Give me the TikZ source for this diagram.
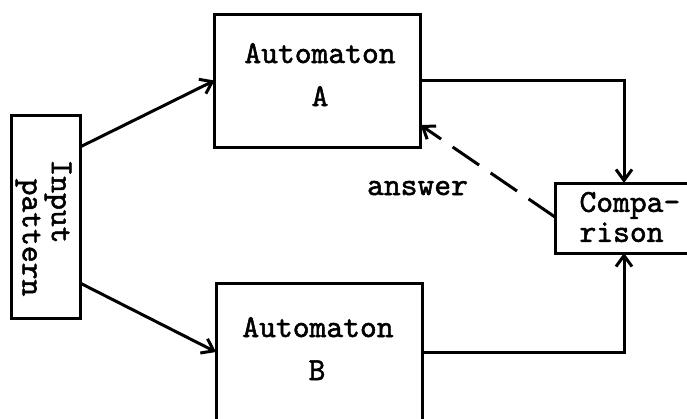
\documentclass[tikz,border=0pt]{standalone}
\usepackage{fontspec}
\newfontfamily\typew{lmmono10-regular.otf}[FakeBold=1.6]
\usetikzlibrary{arrows.meta}
\begin{document}
\begin{tikzpicture}[x=1pt, y=-1pt,
  line width=3pt,
  box/.style={draw, rectangle, inner sep=0pt, outer sep=0pt},
  lbl/.style={inner sep=0pt, font=\typew\fontsize{32}{30}\selectfont},
  flow/.style={-{Straight Barb[length=11pt,width=16pt]}},
  back/.style={flow, dash pattern=on 32pt off 14pt}]
\useasboundingbox (0,0) rectangle (687,418);
\clip (0,0) rectangle (687,418);

% boxes
\node[box, minimum width=69pt,  minimum height=203pt] (in)   at (45.5,216.5) {};
\node[box, minimum width=206pt, minimum height=133pt] (A)    at (317.5,80.5) {};
\node[box, minimum width=206pt, minimum height=150pt] (B)    at (319,358) {};
\node[box, minimum width=150pt, minimum height=70pt]  (cmp)  at (630,218) {};

% labels
\node[lbl, rotate=-90] (inA) at (58,201.5) {Input};
\node[lbl, rotate=-90] (inB) at (28,237.5) {pattern};
\node[lbl, anchor=base] (At1) at (320,63)  {Automaton};
\node[lbl, anchor=base] (At2) at (320,106) {A};
\node[lbl, anchor=base] (Bt1) at (318,337) {Automaton};
\node[lbl, anchor=base] (Bt2) at (317,380) {B};
\node[lbl, align=left, anchor=west] (Ct) at (578,217) {Compa-\\rison};
\node[lbl, anchor=base] (ans) at (417.5,195) {answer};

% connectors
\draw[flow] ([yshift=69.5pt]in.east) -- (A.west);
\draw[flow] ([yshift=-66.5pt]in.east) -- ([yshift=6pt]B.west);
\draw[flow] (A.east) -| ([xshift=-6pt]cmp.north);
\draw[flow] ([yshift=6pt]B.east) -| ([xshift=-6pt]cmp.south);
\draw[back] ([yshift=1pt]cmp.west) -- ([yshift=-44.5pt]A.east);
\end{tikzpicture}
\end{document}
